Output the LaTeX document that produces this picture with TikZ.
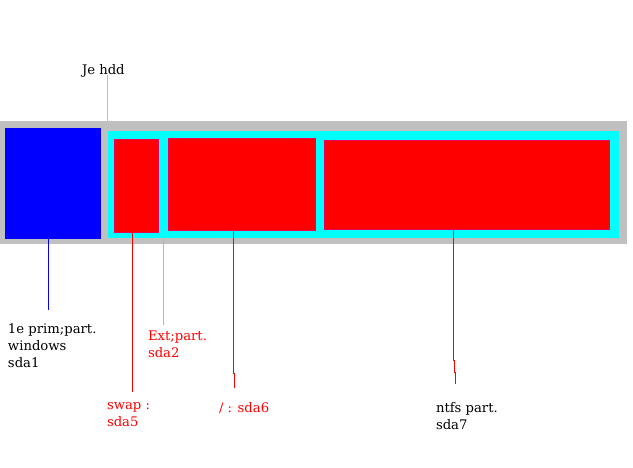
\documentclass[tikz,border=0pt]{standalone}
\usepackage{fontspec}
\setmainfont{DejaVu Serif}
\definecolor{hddgray}{RGB}{192,192,192}
\definecolor{extcyan}{RGB}{0,255,255}
\definecolor{partred}{RGB}{255,0,0}
\definecolor{redrim}{RGB}{235,0,90}
\begin{document}
\begin{tikzpicture}[x=1pt,y=-1pt,
  box/.style={inner sep=0pt, outer sep=0pt, anchor=north west, draw=none},
  redbox/.style={box, fill=partred, draw=redrim, line width=0.5pt},
  lbl/.style={inner sep=0pt, outer sep=0pt, anchor=base west, align=left,
              font=\fontsize{13.2}{17}\selectfont},
  conn/.style={line width=1pt}]
\useasboundingbox (0,0) rectangle (633,467);
\fill[white] (0,0) rectangle (633,467);
% disk and partitions
\node[box, fill=hddgray, minimum width=627pt, minimum height=123pt] (hdd) at (0,121) {};
\node[box, fill=blue, minimum width=96pt, minimum height=111pt] (sda1) at (5,128) {};
\node[box, fill=extcyan, minimum width=511pt, minimum height=107pt] (sda2) at (108,131) {};
\node[redbox, minimum width=43.5pt, minimum height=92.5pt] (sda5) at (114.25,139.25) {};
\node[redbox, minimum width=146.5pt, minimum height=91.5pt] (sda6) at (168.25,138.25) {};
\node[redbox, minimum width=284.5pt, minimum height=88.5pt] (sda7) at (324.25,140.25) {};
% labels (base = baseline of last line)
\node[lbl] (lhdd) at (82,74) {Je hdd};
\node[lbl] (l1) at (8,367) {1e prim;part.\\windows\\sda1};
\node[lbl, text=partred] (l2) at (148,357) {Ext;part.\\sda2};
\node[lbl, text=partred] (l5) at (107,426) {swap :\\sda5};
\node[lbl, text=partred] (l6) at (219,412) {/ : sda6};
\node[lbl] (l7) at (436,429) {ntfs part.\\sda7};
% connectors
\coordinate (chdd) at (107,75);
\draw[conn, hddgray] (chdd) -- (chdd |- hdd.north);
\coordinate (c1) at (48,310);
\draw[conn, blue] (c1 |- sda1.south) -- (c1);
\coordinate (c5) at (132,392);
\draw[conn, partred] (c5 |- sda5.south) -- (c5);
\coordinate (c2) at (163,325);
\draw[conn, extcyan!70!hddgray] (c2 |- sda2.south) -- (c2);
\coordinate (c6a) at (233,373);
\coordinate (c6) at (234,388);
\draw[conn, partred] (c6a |- sda6.south) -- (c6a) -| (c6);
\coordinate (c7a) at (453,360);
\coordinate (c7b) at (454,372);
\coordinate (c7) at (455,384);
\draw[conn, partred] (c7a |- sda7.south) -- (c7a) -| (c7b) -| (c7);
\end{tikzpicture}
\end{document}
